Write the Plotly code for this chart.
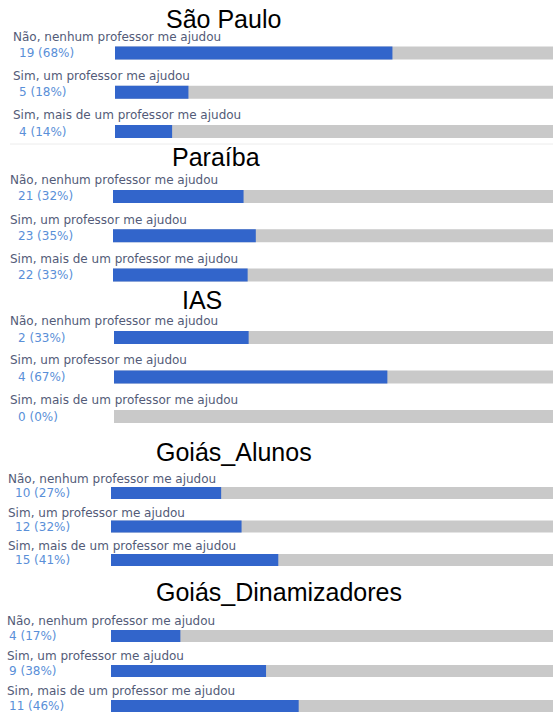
import plotly.graph_objects as go

# ---------------- data ----------------
titles = ["São Paulo", "Paraíba", "IAS", "Goiás_Alunos", "Goiás_Dinamizadores"]
options = ["Não, nenhum professor me ajudou",
           "Sim, um professor me ajudou",
           "Sim, mais de um professor me ajudou"]
counts = [[19, 5, 4], [21, 23, 22], [2, 4, 0], [10, 12, 15], [4, 9, 11]]
percents = [[68, 18, 14], [32, 35, 33], [33, 67, 0], [27, 32, 41], [17, 38, 46]]

# ---------------- layout constants (pixels) ----------------
W, H = 553, 714
FULL = 408  # pixel length of a 100% bar
# per panel: first bar centre, bar spacing, bar start x, title centre x, title y,
# bar thickness, label offset, label left x, count left x
panels = [
    dict(c0=53.0, s=39.25, x0=115, tx=223, ty=19, th=13, lo=16.5, lx=11, cx=17),
    dict(c0=196.5, s=39.25, x0=113, tx=216, ty=157, th=13, lo=16, lx=8, cx=16),
    dict(c0=337.5, s=39.5, x0=114, tx=202, ty=300, th=13, lo=17, lx=8, cx=16),
    dict(c0=493.0, s=33.5, x0=111, tx=234, ty=452, th=12, lo=14, lx=6, cx=13),
    dict(c0=636.0, s=35.0, x0=111, tx=279, ty=592, th=12, lo=15.5, lx=5, cx=7),
]

BLUE = "#3265cb"
GRAY = "#c9c9c9"
LABEL_COLOR = "#535b78"
COUNT_COLOR = "#5a8fd8"

fig = go.Figure()
shapes = []
annotations = []
layout_axes = {}
h = 0.2

for i, (p, title) in enumerate(zip(panels, titles)):
    n = i + 1
    xa = "x" if n == 1 else f"x{n}"
    ya = "y" if n == 1 else f"y{n}"
    w = p["th"] / p["s"]
    R = (W - p["x0"]) / FULL * 100
    top_px = p["c0"] - h * p["s"]
    bot_px = p["c0"] + (2 + h) * p["s"]
    dom = [max(0, 1 - bot_px / H), min(1, 1 - top_px / H)]

    fig.add_trace(go.Bar(
        orientation="h", x=percents[i], y=[0, 1, 2], width=w,
        marker=dict(color=BLUE, line=dict(width=0)),
        xaxis=xa, yaxis=ya, showlegend=False, hoverinfo="skip"))

    layout_axes["xaxis" if n == 1 else f"xaxis{n}"] = dict(
        domain=[p["x0"] / W, 1], range=[0, R], visible=False, fixedrange=True)
    layout_axes["yaxis" if n == 1 else f"yaxis{n}"] = dict(
        domain=dom, range=[2 + h, -h], visible=False, fixedrange=True)

    for k in range(3):
        shapes.append(dict(type="rect", xref=f"{xa} domain", yref=ya,
                           x0=0, x1=1, y0=k - w / 2, y1=k + w / 2,
                           fillcolor=GRAY, line=dict(width=0), layer="below"))
        annotations.append(dict(xref="paper", yref=ya, x=p["lx"] / W, y=k,
                                yshift=p["lo"], xanchor="left", yanchor="middle",
                                text=options[k], showarrow=False,
                                font=dict(family="DejaVu Sans", size=12, color=LABEL_COLOR)))
        annotations.append(dict(xref="paper", yref=ya, x=p["cx"] / W, y=k,
                                xanchor="left", yanchor="middle",
                                text=f"{counts[i][k]} ({percents[i][k]}%)", showarrow=False,
                                font=dict(family="DejaVu Sans", size=12, color=COUNT_COLOR)))

    annotations.append(dict(xref="paper", yref="paper", x=p["tx"] / W, y=1 - p["ty"] / H,
                            xanchor="center", yanchor="middle", text=title, showarrow=False,
                            font=dict(family="Liberation Sans, Arial", size=25, color="black")))

shapes.append(dict(type="line", xref="paper", yref="paper", x0=10 / W, x1=1,
                   y0=1 - 144 / H, y1=1 - 144 / H, line=dict(color="#ececec", width=1)))

fig.update_layout(
    width=W, height=H, margin=dict(l=0, r=0, t=0, b=0),
    paper_bgcolor="white", plot_bgcolor="rgba(0,0,0,0)",
    barmode="overlay", shapes=shapes, annotations=annotations,
    **layout_axes)

fig.write_html("out.html", config={"displayModeBar": False},
               post_script="document.body.style.margin='0';document.body.style.overflow='hidden';")
